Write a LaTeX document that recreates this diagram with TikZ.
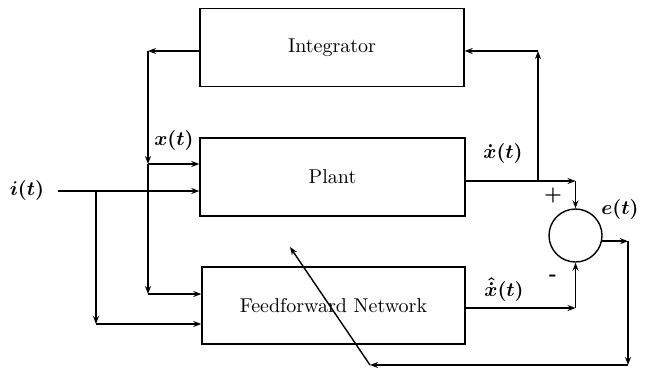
\documentclass[tikz,border=0pt]{standalone}
\usepackage{amsmath}
\usepackage{amssymb}
\usetikzlibrary{arrows.meta}
\begin{document}
\begin{tikzpicture}[x=0.5pt, y=-0.5pt,
        block/.style={draw, line width=0.7pt, minimum width=#1, minimum height=39pt, inner sep=0pt},
        wire/.style={line width=0.7pt},
        >={Stealth[length=4pt, width=3pt]}]
        % Fix the size of the picture
        \useasboundingbox (0,0) rectangle (653,371);

        % Draw the blocks
        \node[block=132pt] (integ) at (332,47.5) {Integrator};
        \node[block=132.5pt] (plant) at (332.5,177) {Plant};
        \node[block=131.5pt, minimum height=38.5pt] (ffnet) at (333.5,305.5) {Feedforward Network};
        \node[draw, circle, line width=0.7pt, minimum size=26.5pt, inner sep=0pt] (sum) at (575.5,235.5) {};

        % Corner points of the wires
        \coordinate (in) at (58,191);
        \coordinate (ib) at (96,191);
        \coordinate (ic) at (96,324);
        \coordinate (xa) at (148,51);
        \coordinate (xb) at (148,164);
        \coordinate (xc) at (148,294);
        \coordinate (pa) at (538,181);
        \coordinate (pb) at (575.5,181);
        \coordinate (pc) at (538,51);
        \coordinate (fa) at (575.5,308);
        \coordinate (ea) at (628,241);
        \coordinate (eb) at (628,365);
        \coordinate (ec) at (370,365);
        \coordinate (ed) at (290,247);

        % Feedback through the integrator
        \draw[wire, ->] (integ.west |- xa) -- (xa);
        \draw[wire, ->] (xa) -- (xb);
        \draw[wire, ->] (xb) -- (plant.west |- xb);
        \draw[wire, ->] (xb) -- (xc);
        \draw[wire, ->] (xc) -- (ffnet.west |- xc);

        % Input to plant and network
        \draw[wire, ->] (in) -- (plant.west |- in);
        \draw[wire, ->] (ib) -- (ic);
        \draw[wire, ->] (ic) -- (ffnet.west |- ic);

        % Plant output
        \draw[wire, ->] (plant.east |- pa) -- (pb);
        \draw[wire, ->] (pb) -- (sum.north);
        \draw[wire, ->] (pa) -- (pc);
        \draw[wire, ->] (pc) -- (integ.east |- pc);

        % Network output
        \draw[wire, ->] (ffnet.east |- fa) -- (fa);
        \draw[wire, ->] (fa) -- (sum.south);

        % Error back to the network
        \draw[wire, ->] (sum.-12) -- (sum.-12 -| ea);
        \draw[wire, ->] (ea) -- (eb);
        \draw[wire, ->] (eb) -- (ec);
        \draw[wire, ->] (ec) -- (ed);

        % Signal labels
        \node (li) at (27,190) {$\boldsymbol{i(t)}$};
        \node (lx) at (174,140) {$\boldsymbol{x(t)}$};
        \node (ldx) at (503,153) {$\boldsymbol{\dot{x}(t)}$};
        \node (lhx) at (504,290) {$\boldsymbol{\hat{\dot{x}}(t)}$};
        \node (le) at (620,209) {$\boldsymbol{e(t)}$};
        \node (lp) at (553,195) {\textbf{+}};
        \node (lm) at (553,278) {\textbf{-}};
    \end{tikzpicture}
\end{document}
